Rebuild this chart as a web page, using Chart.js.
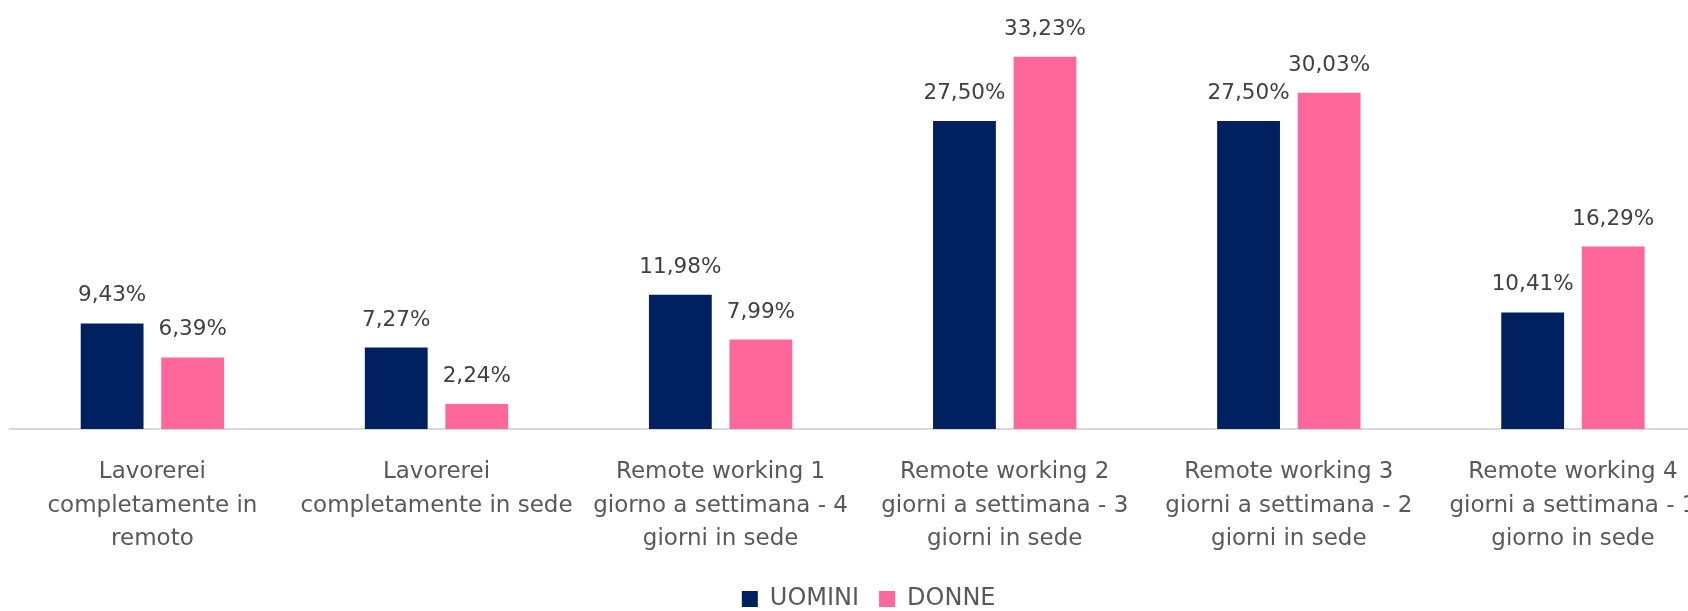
<!DOCTYPE html>
<html><head><meta charset="utf-8">
<script src="https://cdn.jsdelivr.net/npm/chart.js@4/dist/chart.umd.min.js"></script>
<style>
html,body{margin:0;padding:0;overflow:hidden;background:#fff;width:1688px;height:611px}
#wrap{position:absolute;left:0;top:0;width:1737px;height:621px}
</style>
</head><body><div id="wrap"><canvas id="c" width="1737" height="621"></canvas></div>
<script>
const categories = [
  ["Lavorerei", "completamente in", "remoto"],
  ["Lavorerei", "completamente in sede"],
  ["Remote working 1", "giorno a settimana - 4", "giorni in sede"],
  ["Remote working 2", "giorni a settimana - 3", "giorni in sede"],
  ["Remote working 3", "giorni a settimana - 2", "giorni in sede"],
  ["Remote working 4", "giorni a settimana - 1", "giorno in sede"]
];
const seriesNames = ["UOMINI", "DONNE"];
const uomini = [9.43, 7.27, 11.98, 27.50, 27.50, 10.41];
const donne = [6.39, 2.24, 7.99, 33.23, 30.03, 16.29];
const seriesColors = ["#002060", "#FF6699"];

const FONT = '"DejaVu Sans", sans-serif';

const valueLabels = {
  id: 'valueLabels',
  afterDatasetsDraw(chart) {
    const ctx = chart.ctx;
    ctx.save();
    ctx.font = '21.5px ' + FONT;
    ctx.fillStyle = '#404040';
    ctx.textAlign = 'center';
    ctx.textBaseline = 'alphabetic';
    chart.data.datasets.forEach((ds, i) => {
      chart.getDatasetMeta(i).data.forEach((bar, j) => {
        const txt = ds.data[j].toFixed(2).replace('.', ',') + '%';
        ctx.fillText(txt, bar.x, bar.y - 22);
      });
    });
    ctx.restore();
  }
};

new Chart(document.getElementById('c'), {
  type: 'bar',
  data: {
    labels: categories,
    datasets: [
      { label: seriesNames[0], data: uomini, backgroundColor: seriesColors[0], borderWidth: 0 },
      { label: seriesNames[1], data: donne, backgroundColor: seriesColors[1], borderWidth: 0 }
    ]
  },
  options: {
    responsive: false,
    animation: false,
    devicePixelRatio: 1,
    layout: { padding: { left: 10.35, right: 10, top: 3.4, bottom: 0 } },
    datasets: { bar: { categoryPercentage: 0.567, barPercentage: 0.78 } },
    scales: {
      x: {
        grid: { display: false, drawTicks: false },
        border: { display: true, color: '#d9d9d9', width: 2 },
        ticks: {
          color: '#595959',
          font: { family: FONT, size: 23, lineHeight: 1.47 },
          padding: 26,
          maxRotation: 0,
          autoSkip: false
        },
        afterFit: (s) => { s.height = 138; }
      },
      y: {
        position: 'right',
        min: 0, max: 38,
        grid: { display: false, drawTicks: false },
        border: { display: false },
        ticks: { display: false },
        afterFit: (s) => { s.width = 12; }
      }
    },
    plugins: {
      legend: {
        position: 'bottom',
        labels: {
          boxWidth: 16, boxHeight: 16,
          color: '#595959',
          font: { family: FONT, size: 24 },
          padding: 20
        }
      },
      tooltip: { enabled: false }
    }
  },
  plugins: [valueLabels]
});
</script>
</body></html>
